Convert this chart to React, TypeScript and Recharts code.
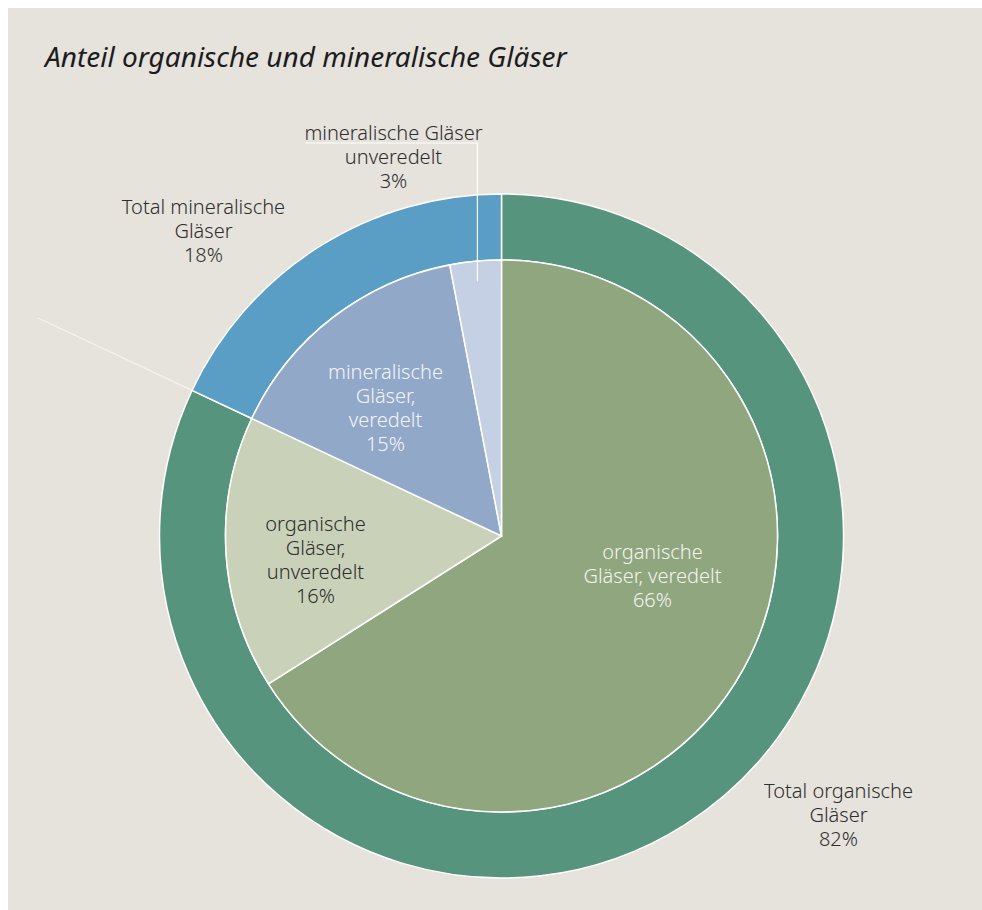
import { PieChart, Pie, Cell } from "recharts";

// inner pie: detailed split
const innerNames = [
  "organische Gläser, veredelt",
  "organische Gläser, unveredelt",
  "mineralische Gläser, veredelt",
  "mineralische Gläser unveredelt",
];
const innerValues = [66, 16, 15, 3];
const innerLines = [
  ["organische", "Gläser, veredelt"],
  ["organische", "Gläser,", "unveredelt"],
  ["mineralische", "Gläser,", "veredelt"],
  ["mineralische Gläser", "unveredelt"],
];

// outer ring: totals
const outerNames = ["Total organische Gläser", "Total mineralische Gläser"];
const outerValues = [82, 18];
const outerLines = [
  ["Total organische", "Gläser"],
  ["Total mineralische", "Gläser"],
];

const innerColors = ["#8fa67f", "#c9d2b9", "#91a8c9", "#c6d0e4"];
const outerColors = ["#57947d", "#5a9ec5"];
const innerTextColors = ["#f4f4ee", "#2e2e2e", "#f4f4f8", "#2e2e2e"];

const innerData = innerNames.map((name, i) => ({ name, value: innerValues[i] }));
const outerData = outerNames.map((name, i) => ({ name, value: outerValues[i] }));

// label anchor offsets from the pie centre (first baseline)
const innerLabelPos = [
  [151, 23],
  [-186, -5],
  [-116, -157],
  [-108, -396],
];
const outerLabelPos = [
  [337, 262],
  [-298, -322],
];

const W = 966;
const H = 894;
const CX = 493.5;
const CY = 528;
const R_IN = 276;
const R_OUT = 342;
const LINE_H = 24;
const RAD = Math.PI / 180;
const FONT = "'Noto Sans', 'Open Sans', sans-serif";
const BG = "#e6e2dc";

function polar(cx: number, cy: number, r: number, angle: number) {
  return [cx + r * Math.cos(-angle * RAD), cy + r * Math.sin(-angle * RAD)];
}

function LabelBlock({ x, y, lines, fill }: any) {
  return (
    <text
      x={x}
      y={y}
      textAnchor="middle"
      fill={fill}
      fontFamily={FONT}
      fontSize={20}
      fontWeight={300}
    >
      {lines.map((l: string, i: number) => (
        <tspan key={i} x={x} y={y + i * LINE_H}>
          {l}
        </tspan>
      ))}
    </text>
  );
}

const renderInnerLabel = (props: any) => {
  const { cx, cy, index, midAngle, value } = props;
  const [dx, dy] = innerLabelPos[index];
  const x = cx + dx;
  const y = cy + dy;
  const lines = [...innerLines[index], `${value}%`];
  let leader = null;
  if (index === 3) {
    const [px, py] = polar(cx, cy, 256, midAngle);
    leader = (
      <polyline
        points={`${px},${py} ${px},${cy - 393} ${cx - 196},${cy - 393}`}
        fill="none"
        stroke="#ffffff"
        strokeWidth={1.2}
      />
    );
  }
  return (
    <g key={`il-${index}`}>
      {leader}
      <LabelBlock x={x} y={y} lines={lines} fill={innerTextColors[index]} />
    </g>
  );
};

const renderOuterLabel = (props: any) => {
  const { cx, cy, index, value, startAngle, outerRadius } = props;
  const [dx, dy] = outerLabelPos[index];
  const lines = [...outerLines[index], `${value}%`];
  let leader = null;
  if (index === 1) {
    const [x1, y1] = polar(cx, cy, outerRadius, startAngle);
    const [x2, y2] = polar(cx, cy, 512, startAngle);
    leader = (
      <line x1={x1} y1={y1} x2={x2} y2={y2} stroke="#f6f4ef" strokeWidth={1.2} />
    );
  }
  return (
    <g key={`ol-${index}`}>
      {leader}
      <LabelBlock x={cx + dx} y={cy + dy} lines={lines} fill="#2e2e2e" />
    </g>
  );
};

export default function App() {
  return (
    <>
      {/* beige canvas to the right/bottom page edges, white strip top and left */}
      <style>{`html { background: ${BG}; }`}</style>
      <div
        style={{
          position: "absolute",
          left: 0,
          top: 0,
          width: 8,
          height: "100%",
          minHeight: 2000,
          background: "#ffffff",
        }}
      />
      <div
        style={{
          position: "absolute",
          left: 0,
          top: 0,
          width: "100%",
          minWidth: 2000,
          height: 8,
          background: "#ffffff",
        }}
      />
      <div
        style={{
          position: "relative",
          width: W,
          height: H,
          background: BG,
        }}
      >
        <div
          style={{
            position: "absolute",
            left: 37,
            top: 34,
            fontFamily: FONT,
            fontStyle: "italic",
            fontSize: 28,
            lineHeight: 1,
            color: "#1c1c1c",
            whiteSpace: "nowrap",
          }}
        >
          Anteil organische und mineralische Gläser
        </div>
        <PieChart width={W} height={H} margin={{ top: 0, right: 0, bottom: 0, left: 0 }}>
          <Pie
            data={outerData}
            dataKey="value"
            nameKey="name"
            cx={CX}
            cy={CY}
            innerRadius={R_IN}
            outerRadius={R_OUT}
            startAngle={90}
            endAngle={-270}
            stroke="#ffffff"
            strokeWidth={1.5}
            label={renderOuterLabel}
            labelLine={false}
            isAnimationActive={false}
          >
            {outerData.map((d, i) => (
              <Cell key={d.name} fill={outerColors[i]} />
            ))}
          </Pie>
          <Pie
            data={innerData}
            dataKey="value"
            nameKey="name"
            cx={CX}
            cy={CY}
            innerRadius={0}
            outerRadius={R_IN}
            startAngle={90}
            endAngle={-270}
            stroke="#ffffff"
            strokeWidth={1.5}
            label={renderInnerLabel}
            labelLine={false}
            isAnimationActive={false}
          >
            {innerData.map((d, i) => (
              <Cell key={d.name} fill={innerColors[i]} />
            ))}
          </Pie>
        </PieChart>
      </div>
    </>
  );
}
